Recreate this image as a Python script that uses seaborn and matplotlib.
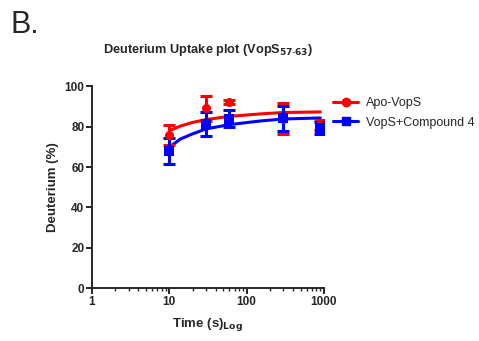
"""Deuterium uptake plot for VopS 57-63, apo vs. compound 4 bound."""

import matplotlib
matplotlib.use("Agg")
import matplotlib.pyplot as plt
import pandas as pd
import seaborn as sns
from matplotlib.lines import Line2D
from matplotlib.ticker import LogLocator, NullFormatter

# measured points (mean +/- error)
times = [10, 30, 60, 300, 900]
apo_mean = [75.8, 89.0, 92.3, 84.0, 81.0]
apo_err = [5.0, 6.2, 1.0, 7.6, 2.5]
cpd_mean = [67.8, 81.3, 84.0, 84.2, 79.5]
cpd_err = [6.5, 6.0, 4.0, 6.2, 3.0]

# fitted curves
fit_times = [10, 14, 20, 30, 60, 150, 300, 900]
apo_fit = [78.0, 80.3, 82.1, 83.5, 85.1, 86.3, 87.0, 87.3]
cpd_fit = [69.8, 73.9, 76.4, 78.9, 81.0, 82.8, 83.8, 84.3]

labels = ["Apo-VopS", "VopS+Compound 4"]
colors = ["#ff0000", "#0000ff"]
markers = ["o", "s"]

sns.set_style("ticks")
plt.rcParams["font.family"] = ["Liberation Sans", "DejaVu Sans"]

fig = plt.figure(figsize=(4.79, 3.41), dpi=100)
ax = fig.add_axes([0.192, 0.155, 0.484, 0.592])

fits = pd.DataFrame({
    "time": fit_times * 2,
    "uptake": apo_fit + cpd_fit,
    "state": [labels[0]] * len(fit_times) + [labels[1]] * len(fit_times),
})
sns.lineplot(data=fits, x="time", y="uptake", hue="state", palette=colors,
             lw=2.2, legend=False, ax=ax)

for mean, err, col, mk in [(apo_mean, apo_err, colors[0], markers[0]),
                           (cpd_mean, cpd_err, colors[1], markers[1])]:
    ax.errorbar(times, mean, yerr=err, fmt="none", ecolor=col, elinewidth=2.2,
                capsize=4.5, capthick=2.2, zorder=3)
    sns.scatterplot(x=times, y=mean, color=col, marker=mk, s=42,
                    edgecolor=col, linewidth=0, ax=ax, zorder=4)

ax.set_xscale("log")
ax.set_xlim(1, 1000)
ax.set_ylim(0, 100)
ax.set_xticks([1, 10, 100, 1000])
ax.set_xticklabels(["1", "10", "100", "1000"])
ax.xaxis.set_minor_locator(LogLocator(base=10, subs=range(2, 10)))
ax.xaxis.set_minor_formatter(NullFormatter())
ax.set_yticks([0, 20, 40, 60, 80, 100])
sns.despine(ax=ax)
for side in ["left", "bottom"]:
    ax.spines[side].set_linewidth(1.4)
ax.tick_params(axis="both", which="major", length=4, width=1.4,
               labelsize=8.5, pad=1.5)
ax.tick_params(axis="x", which="minor", length=2.5, width=1.0)
for lab in ax.get_xticklabels() + ax.get_yticklabels():
    lab.set_fontweight("bold")

ax.set_xlabel("Time (s)$_{\\mathbf{Log}}$", fontsize=9.5, fontweight="bold",
              labelpad=6)
ax.set_ylabel("Deuterium (%)", fontsize=9.5, fontweight="bold", labelpad=4)
ax.set_title("Deuterium Uptake plot (VopS$_{\\mathbf{57\\text{-}63}}$)",
             fontsize=9.2, fontweight="bold", pad=24)

handles = [Line2D([], [], color=c, marker=m, lw=2.2, markersize=6)
           for c, m in zip(colors, markers)]
ax.legend(handles, labels, loc="upper left", bbox_to_anchor=(1.02, 0.97),
          frameon=False, fontsize=9, handlelength=2.0, handletextpad=0.6,
          labelspacing=0.6, borderaxespad=0.0)

fig.text(0.022, 0.97, "B.", fontsize=22, va="top", ha="left")

fig.savefig("out.png", dpi=100)
